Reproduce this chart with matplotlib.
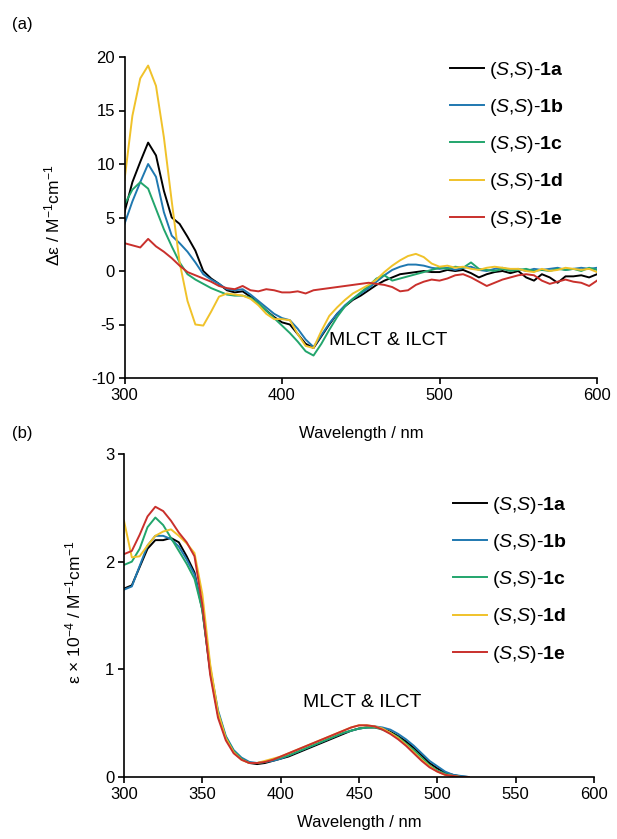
import numpy as np
import matplotlib
matplotlib.use("Agg")
import matplotlib.pyplot as plt

plt.rcParams['font.family'] = ['Liberation Sans', 'DejaVu Sans']
plt.rcParams['mathtext.fontset'] = 'custom'
plt.rcParams['mathtext.rm'] = 'Liberation Sans'
plt.rcParams['mathtext.it'] = 'Liberation Sans:italic'
plt.rcParams['mathtext.bf'] = 'Liberation Sans:bold'
plt.rcParams['axes.unicode_minus'] = False

# (a) CD spectra, 300-600 nm every 5 nm
wl_cd = np.arange(300, 601, 5)
cd_1a = [5.5, 8.3, 10.2, 12.0, 10.8, 7.5, 5.0, 4.4, 3.2, 1.9, 0.0, -0.7, -1.2, -1.8, -2.0, -1.9,
         -2.4, -3.0, -3.7, -4.3, -4.8, -5.0, -5.9, -6.8, -7.2, -6.1, -5.0, -4.0, -3.3, -2.7, -2.3,
         -1.8, -1.3, -0.9, -0.6, -0.3, -0.2, -0.1, 0.0, -0.1, -0.1, 0.1, 0.0, 0.1, -0.2, -0.6,
         -0.3, -0.1, 0.0, -0.2, 0.0, -0.6, -0.9, -0.3, -0.6, -1.1, -0.5, -0.5, -0.4, -0.6, -0.3]
cd_1b = [4.4, 6.5, 8.3, 10.0, 8.8, 5.5, 3.3, 2.6, 1.8, 0.8, -0.3, -0.8, -1.2, -1.7, -1.8, -1.7,
         -2.2, -2.8, -3.4, -4.0, -4.4, -4.6, -5.4, -6.4, -7.1, -6.0, -4.9, -4.0, -3.2, -2.6, -2.1,
         -1.6, -1.0, -0.4, 0.1, 0.4, 0.6, 0.6, 0.5, 0.3, 0.2, 0.3, 0.1, 0.3, 0.4, 0.1,
         0.0, 0.2, 0.3, 0.1, 0.2, 0.0, 0.2, 0.1, 0.2, 0.3, 0.1, 0.2, 0.3, 0.2, 0.3]
cd_1c = [6.2, 7.6, 8.3, 7.7, 5.8, 3.9, 2.3, 0.8, -0.3, -0.8, -1.2, -1.6, -1.9, -2.2, -2.3, -2.3,
         -2.5, -3.0, -3.7, -4.4, -5.1, -5.8, -6.6, -7.5, -7.9, -6.8, -5.5, -4.3, -3.3, -2.6, -2.0,
         -1.4, -0.7, -0.4, -0.9, -0.7, -0.5, -0.3, -0.1, 0.1, 0.3, 0.2, 0.4, 0.3, 0.8, 0.2,
         0.1, 0.0, 0.2, 0.0, 0.1, 0.2, 0.0, 0.1, 0.0, 0.2, 0.1, 0.2, 0.0, 0.3, 0.1]
cd_1d = [8.5, 14.5, 18.0, 19.2, 17.3, 12.5, 6.5, 0.8, -2.8, -5.0, -5.1, -3.8, -2.4, -2.1, -2.2, -2.3,
         -2.6, -3.2, -4.0, -4.5, -4.5, -4.6, -5.9, -7.0, -7.2, -5.6, -4.2, -3.4, -2.7, -2.1, -1.7,
         -1.3, -0.8, -0.1, 0.5, 1.0, 1.4, 1.6, 1.3, 0.7, 0.4, 0.5, 0.3, 0.4, 0.2, 0.1,
         0.3, 0.4, 0.3, 0.2, 0.2, 0.0, -0.1, 0.2, 0.0, 0.1, 0.3, 0.2, 0.1, 0.2, -0.1]
cd_1e = [2.6, 2.4, 2.2, 3.0, 2.3, 1.8, 1.2, 0.5, -0.1, -0.4, -0.7, -1.0, -1.4, -1.6, -1.7, -1.4,
         -1.8, -1.9, -1.7, -1.8, -2.0, -2.0, -1.9, -2.1, -1.8, -1.7, -1.6, -1.5, -1.4, -1.3, -1.2,
         -1.1, -1.2, -1.3, -1.5, -1.9, -1.8, -1.3, -1.0, -0.8, -0.9, -0.7, -0.4, -0.3, -0.6, -1.0,
         -1.4, -1.1, -0.8, -0.6, -0.4, -0.3, -0.4, -0.9, -1.2, -1.0, -0.8, -1.0, -1.1, -1.4, -0.9]

# (b) absorption spectra (eps x 1e-4), 300-520 nm every 5 nm
wl_abs = np.arange(300, 521, 5)
abs_1a = [1.75, 1.78, 1.95, 2.12, 2.20, 2.20, 2.22, 2.18, 2.05, 1.90, 1.55, 0.98, 0.58, 0.36, 0.24,
          0.17, 0.13, 0.12, 0.13, 0.15, 0.17, 0.19, 0.22, 0.25, 0.28, 0.31, 0.34, 0.37, 0.40, 0.43,
          0.45, 0.46, 0.46, 0.45, 0.42, 0.38, 0.33, 0.27, 0.20, 0.13, 0.08, 0.04, 0.02, 0.005, 0.0]
abs_1b = [1.74, 1.77, 1.96, 2.15, 2.24, 2.24, 2.21, 2.14, 2.02, 1.88, 1.58, 1.02, 0.62, 0.38, 0.25,
          0.18, 0.14, 0.13, 0.14, 0.15, 0.17, 0.20, 0.23, 0.26, 0.29, 0.32, 0.35, 0.38, 0.41, 0.43,
          0.45, 0.46, 0.47, 0.46, 0.44, 0.40, 0.35, 0.29, 0.22, 0.15, 0.10, 0.05, 0.02, 0.01, 0.0]
abs_1c = [1.97, 2.00, 2.12, 2.32, 2.41, 2.34, 2.22, 2.10, 1.98, 1.84, 1.55, 1.00, 0.60, 0.37, 0.24,
          0.17, 0.13, 0.13, 0.14, 0.16, 0.18, 0.20, 0.23, 0.26, 0.29, 0.32, 0.35, 0.38, 0.41, 0.43,
          0.45, 0.46, 0.46, 0.44, 0.41, 0.37, 0.31, 0.25, 0.18, 0.11, 0.06, 0.03, 0.01, 0.0, 0.0]
abs_1d = [2.38, 2.04, 2.05, 2.15, 2.24, 2.28, 2.30, 2.24, 2.17, 2.08, 1.70, 1.05, 0.60, 0.36, 0.23,
          0.16, 0.13, 0.13, 0.15, 0.17, 0.19, 0.22, 0.25, 0.28, 0.31, 0.34, 0.37, 0.40, 0.43, 0.46,
          0.48, 0.48, 0.47, 0.45, 0.41, 0.36, 0.30, 0.23, 0.16, 0.10, 0.05, 0.02, 0.01, 0.0, 0.0]
abs_1e = [2.07, 2.10, 2.25, 2.42, 2.51, 2.47, 2.38, 2.27, 2.18, 2.05, 1.60, 0.95, 0.55, 0.34, 0.22,
          0.16, 0.13, 0.13, 0.14, 0.16, 0.19, 0.22, 0.25, 0.28, 0.31, 0.34, 0.37, 0.40, 0.43, 0.46,
          0.48, 0.48, 0.47, 0.44, 0.40, 0.35, 0.29, 0.22, 0.15, 0.09, 0.05, 0.02, 0.01, 0.0, 0.0]

labels = [r'($\mathit{S}$,$\mathit{S}$)-$\mathbf{1%s}$' % c for c in 'abcde']
colors = ['#000000', '#1f78b0', '#22a56c', '#f0c22a', '#c9302c']

W, H = 617, 839
fig = plt.figure(figsize=(W / 100, H / 100), dpi=100)


def fx(px):
    return px / W


def fy(py):
    return 1 - py / H


ax1 = fig.add_axes([fx(124.5), fy(378), fx(597) - fx(124.5), fy(57) - fy(378)])
ax2 = fig.add_axes([fx(124), fy(777), fx(594) - fx(124), fy(454) - fy(777)])

for y, c, lab in zip([cd_1a, cd_1b, cd_1c, cd_1d, cd_1e], colors, labels):
    ax1.plot(wl_cd, y, color=c, lw=1.4, label=lab)
for y, c, lab in zip([abs_1a, abs_1b, abs_1c, abs_1d, abs_1e], colors, labels):
    ax2.plot(wl_abs, y, color=c, lw=1.4, label=lab)

ax1.set_xlim(300, 600)
ax1.set_ylim(-10, 20)
ax1.set_xticks([300, 400, 500, 600])
ax1.set_yticks(range(-10, 21, 5))
ax2.set_xlim(300, 600)
ax2.set_ylim(0, 3)
ax2.set_xticks(range(300, 601, 50))
ax2.set_yticks([0, 1, 2, 3])

for ax in (ax1, ax2):
    ax.spines['top'].set_visible(False)
    ax.spines['right'].set_visible(False)
    ax.spines['left'].set_linewidth(1.2)
    ax.spines['bottom'].set_linewidth(1.2)
    ax.tick_params(direction='out', length=4, width=1.2, labelsize=12, pad=3)

ax1.text(430, -6.5, 'MLCT & ILCT', fontsize=14, va='center', ha='left')
ax2.text(414.5, 0.69, 'MLCT & ILCT', fontsize=14, va='center', ha='left')

fig.text(fx(12), fy(25), '(a)', fontsize=12, va='center', ha='left')
fig.text(fx(12), fy(433), '(b)', fontsize=12, va='center', ha='left')
fig.text(fx(361), fy(433), 'Wavelength / nm', fontsize=12, va='center', ha='center')
fig.text(fx(359), fy(822), 'Wavelength / nm', fontsize=12, va='center', ha='center')
fig.text(fx(52), fy(215), 'Δε / M$^{-1}$cm$^{-1}$', fontsize=12.5, va='center', ha='center',
         rotation=90)
fig.text(fx(73), fy(612), 'ε × 10$^{-4}$ / M$^{-1}$cm$^{-1}$', fontsize=12.5, va='center',
         ha='center', rotation=90)

leg_kw = dict(loc='upper left', bbox_transform=fig.transFigure, frameon=False, fontsize=14,
              borderpad=0, borderaxespad=0, handlelength=1.75, handletextpad=0.25,
              labelspacing=0.83)
ax1.legend(bbox_to_anchor=(fx(450), fy(60)), **leg_kw)
ax2.legend(bbox_to_anchor=(fx(453), fy(495)), **leg_kw)

plt.savefig('out.png', dpi=100)
